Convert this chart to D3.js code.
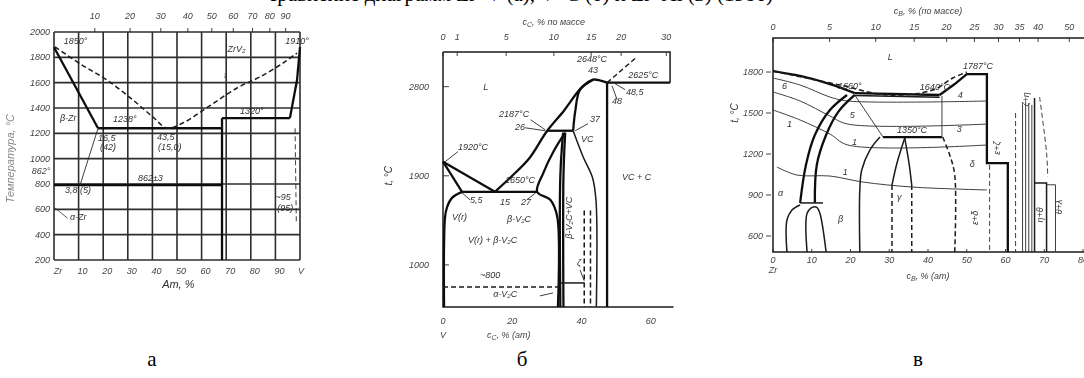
<!DOCTYPE html>
<html>
<head>
<meta charset="utf-8">
<script src="https://cdn.jsdelivr.net/npm/d3@7"></script>
<style>
  body { margin: 0; background: #fff; }
  svg { display: block; }
  .thick { fill: none; stroke: #111; stroke-width: 2.3; }
  .mid { fill: none; stroke: #1a1a1a; stroke-width: 1.5; }
  .thin { fill: none; stroke: #2a2a2a; stroke-width: 0.9; }
  .dash { stroke-dasharray: 5 3; }
  .grid { stroke: #2e2e2e; stroke-width: 1.6; }
  .lbl { font-family: "Liberation Sans", sans-serif; font-style: italic; font-size: 9px; fill: #333; }
  .tick { font-family: "Liberation Sans", sans-serif; font-style: italic; font-size: 9px; fill: #444; }
  .cap { font-family: "Liberation Serif", serif; font-size: 21px; fill: #000; }
</style>
</head>
<body>
<svg id="fig" width="1084" height="378"></svg>
<script>
// ---------- а : Zr–V (ат.% V, °C) ----------
const A_AT_TICKS = [0, 10, 20, 30, 40, 50, 60, 70, 80, 90, 100];
const A_AT_LABELS = ["Zr", "10", "20", "30", "40", "50", "60", "70", "80", "90", "V"];
const A_WT_TICKS = [10, 20, 30, 40, 50, 60, 70, 80, 90];
const A_TEMPS = [200, 400, 600, 800, 1000, 1200, 1400, 1600, 1800, 2000];
const A_LIQ_ZR = [[0, 1880], [17.9, 1240]];
const A_EUTECTIC = [[17.9, 1240], [68.3, 1240]];
const A_ZRV2 = [[68.3, 200], [68.3, 1320]];
const A_PERITECTIC = [[68.3, 1320], [95.9, 1320]];
const A_LIQ_V = [[95.9, 1320], [98.8, 1621], [100, 1880]];
const A_EUTECTOID = [[0, 792], [68.3, 792]];
const A_BETA_SOLVUS = [[17.9, 1240], [10.6, 792]];
const A_ALPHA_SOLVUS = [[0.4, 610], [3, 570], [5.5, 530]];
const A_METASTABLE = [[0.4, 1882], [11.4, 1739], [21.5, 1621], [32.1, 1463], [40.2, 1329], [45.9, 1242],
  [52.4, 1282], [62.6, 1408], [74.4, 1558], [83.7, 1645], [93.1, 1755], [98.8, 1834]];
const A_V_SOLVUS = [[98, 1240], [98.5, 500]];
const A_LABELS = [[4, 1905, "1850°"], [94, 1905, "1910°"], [70.5, 1840, "ZrV₂"], [68.6, 1640, "↓"],
  [2.4, 1297, "β-Zr"], [24, 1290, "1238°"], [17.9, 1139, "16,5"], [18.7, 1070, "(42)"],
  [41.9, 1147, "43,5"], [42.3, 1070, "(15,0)"], [75.6, 1353, "1320°"], [34.1, 824, "862±3"],
  [4.5, 729, "3,8 (5)"], [6.5, 516, "α-Zr"], [90, 676, "~95"], [90.8, 590, "(95)"]];
const A_SIDE_NOTE = [-1.5, 880, "862°"];

// ---------- б : V–C ----------
const B_AT_TICKS = [0, 20, 40, 60];
const B_WT_TICKS = [0, 1, 5, 10, 15, 20, 30];
const B_TEMPS = [1000, 1900, 2800];
const B_LIQ_V = [[0, 2042], [15, 1738]];
const B_SOL_V = [[0, 2042], [5.5, 1738]];
const B_EUTECTIC = [[5.5, 1738], [27.2, 1738]];
const B_LIQ_VC = [[15, 1738], [20, 1900], [25, 2080], [30.1, 2355], [35, 2560], [40, 2790], [43.4, 2871], [45.5, 2860], [47.4, 2840]];
const B_EUT_VC_C = [[47.4, 2840], [65.6, 2840]];
const B_PERITECTIC = [[30.1, 2355], [37.6, 2355]];
const B_SOL_VC = [[37.6, 2355], [38.2, 2550], [39.6, 2770], [43.4, 2871]];
const B_VC_RIGHT = [[47.4, 2840], [47.4, 575]];
const B_LIQ_C = [[47.4, 2840], [56.1, 3103]];
const B_V_SOLVUS = [[5.5, 1738], [2.6, 1677], [1.2, 1587], [0.6, 1486], [0.3, 575]];
const B_V2C_ARCH = [[35.3, 2335], [32, 2150], [29, 1930], [27.2, 1738], [31, 1657], [33, 1486], [33.2, 575]];
const B_V2C_L = [[34.7, 2335], [33.9, 1900], [33.9, 575]];
const B_V2C_R = [[35.3, 2335], [34.8, 1900], [34.8, 575]];
const B_VC_LEFT = [[37.6, 2355], [40.5, 2090], [43.2, 1880], [44.2, 1650], [44.3, 575]];
const B_ORDER_1 = [[40.8, 1550], [40.8, 575]];
const B_ORDER_2 = [[42.6, 1550], [42.6, 575]];
const B_ALPHA = [[0, 778], [33.2, 778]];
const B_ZETA = [[33.9, 818], [40.8, 818]];
const B_LABELS = [[11.6, 2770, "L"], [38.7, 3053, "2648°C"], [41.9, 2942, "43"], [53.5, 2890, "2625°C"],
  [52.9, 2720, "48,5"], [48.8, 2620, "48"], [16.2, 2497, "2187°C"], [20.8, 2365, "26"], [42.5, 2446, "37"],
  [39.9, 2244, "VC"], [4.3, 2163, "1920°C"], [17.9, 1830, "1650°C"], [7.8, 1627, "5,5"], [16.5, 1607, "15"],
  [22.5, 1607, "27"], [2.6, 1455, "V(r)"], [18.5, 1435, "β-V₂C"], [7.2, 1223, "V(r) + β-V₂C"],
  [51.7, 1860, "VC + C"], [38.7, 990, "ζ"], [10.7, 869, "~800"], [14.5, 677, "α-V₂C"]];
const B_LEADERS = [[[25.3, 2466], [29.5, 2365]], [[23.7, 2385], [29.5, 2355]], [[41.9, 2426], [38.2, 2355]],
  [[4.3, 2143], [0.6, 2042]], [[50.3, 2669], [48.8, 2810]], [[52.6, 2770], [49.7, 2830]],
  [[39.6, 950], [40.8, 839]], [[28, 687], [31.8, 717]], [[7.8, 1657], [5.5, 1728]], [[24.2, 1657], [26.8, 1728]]];
const B_ROT_LABELS = [[37.3, 1476, "β-V₂C+VC"]];

// ---------- в ----------
const C_AT_TICKS = [0, 10, 20, 30, 40, 50, 60, 70, 80];
const C_WT_TICKS = [0, 5, 10, 15, 20, 25, 30, 35, 40, 50];
const C_TEMPS = [600, 900, 1200, 1500, 1800];
const C_SOLIDUS = [[0, 1807], [7, 1771], [14.7, 1712], [21.1, 1646]];
const C_PLATEAU = [[21.1, 1646], [43, 1632]];
const C_PLATEAU_2 = [[21.1, 1628], [43, 1616]];
const C_RISE = [[43, 1632], [46.9, 1712], [50, 1785], [55.2, 1785], [55.2, 1134], [60.6, 1134], [60.6, 483]];
const C_LIQUIDUS = [[0, 1807], [17.3, 1705], [29.4, 1632], [41.2, 1668], [46.4, 1756], [50, 1800]];
const C_ISO_4 = [[0, 1756], [7, 1705], [14.7, 1617], [19.3, 1588], [55.2, 1588]];
const C_ISO_3 = [[0, 1654], [7, 1588], [14.7, 1478], [19.3, 1419], [55.2, 1419]];
const C_ISO_1 = [[0, 1522], [7, 1449], [14.7, 1346], [19.3, 1266], [55.2, 1266]];
const C_ARC_OUT = [[19.1, 1632], [14.7, 1522], [10.8, 1339], [8.5, 1120], [7, 842]];
const C_ARC_IN = [[21.1, 1632], [16.8, 1507], [13.7, 1339], [11.3, 1120], [10.8, 842]];
const C_ARC_FOOT = [[7, 842], [12.9, 842]];
const C_DOME_L = [[3.6, 483], [3.6, 717], [4.9, 790], [7, 827]];
const C_DOME_M = [[8.8, 483], [8.8, 766], [10.1, 810], [11.3, 810], [12.1, 766], [13.7, 483]];
const C_ARC_3 = [[27.6, 1324], [25, 1229], [22.9, 1083], [22.4, 937], [22.4, 483]];
const C_DIAG = [[21.1, 1632], [28.4, 1324]];
const C_EUTECTOID = [[28.4, 1324], [43.6, 1324]];
const C_SHORT = [[43.6, 1625], [43.6, 1324]];
const C_PEAK_L = [[34, 1317], [32, 1134], [30.7, 973]];
const C_PEAK_R = [[34, 1317], [35.1, 1134], [35.8, 973]];
const C_PEAK_LD = [[30.7, 973], [30.7, 483]];
const C_PEAK_RD = [[35.8, 973], [35.8, 483]];
const C_DASH_ARC = [[43.8, 1324], [45.6, 1193], [46.9, 1047], [46.9, 483]];
const C_WAVE = [[1, 1105], [6.2, 1046], [14.7, 1039], [23.2, 995], [36.1, 958], [55.2, 937]];
const C_COMPOUNDS = [62.6, 64.4, 65.2, 66, 66.8];
const C_COMPOUND_TOP = [1500, 1560, 1580, 1570, 1560];
const C_TALL = [[67.5, 1610], [67.5, 483]];
const C_DASH_V = [[55.9, 1120], [55.9, 483]];
const C_RIGHT_DASH = [[68.8, 1617], [70.6, 1208], [70.9, 1032]];
const C_STEP = [[67.5, 988], [70.6, 988], [70.6, 483]];
const C_STEP_2 = [[70.6, 975], [72.9, 975], [72.9, 483]];
const C_LABELS = [[29.6, 1888, "L"], [37.9, 1668, "1640°C"], [16.8, 1676, "1660°"], [49, 1822, "1787°C"],
  [32, 1354, "1350°C"], [2.3, 1676, "6"], [19.8, 1463, "5"], [3.6, 1398, "1"], [47.7, 1610, "4"],
  [47.4, 1361, "3"], [20.4, 1266, "1"], [18, 1046, "1"], [1.3, 893, "α"], [16.8, 702, "β"],
  [32, 863, "γ"], [50.8, 1105, "δ"]];
const C_ROT_LABELS = [[52.8, 732, "ε+δ"], [58.5, 1244, "ε+ζ"], [66, 1600, "ζ+η"], [69.6, 754, "η+θ"], [74.5, 812, "θ+λ"]];

// atomic-to-weight conversion for the upper scales
function atFromWt(w, mSolute, mBase) {
  const a = w / mSolute, b = (100 - w) / mBase;
  return 100 * a / (a + b);
}

const svg = d3.select("#fig");
const defs = svg.append("defs");
defs.append("filter").attr("id", "scan").append("feGaussianBlur").attr("stdDeviation", 0.45);

function draw(g, x, y, pts, cls, curved) {
  const l = d3.line().x(d => x(d[0])).y(d => y(d[1]));
  if (curved) l.curve(d3.curveCatmullRom);
  g.append("path").attr("d", l(pts)).attr("class", cls);
}
function labels(g, x, y, list) {
  g.selectAll(null).data(list).enter().append("text")
      .attr("class", "lbl")
      .attr("x", d => x(d[0]))
      .attr("y", d => y(d[1]))
      .text(d => d[2]);
}
function rotLabels(g, x, y, list) {
  g.selectAll(null).data(list).enter().append("text")
      .attr("class", "lbl")
      .attr("text-anchor", "middle")
      .attr("transform", d => `translate(${x(d[0])},${y(d[1])}) rotate(-90)`)
      .text(d => d[2]);
}
// "c" with a subscript element, then the rest of the title
function concTitle(g, px, py, el, rest) {
  const t = g.append("text").attr("class", "tick").attr("x", px).attr("y", py).attr("text-anchor", "middle");
  t.append("tspan").text("c");
  t.append("tspan").attr("dy", 2).style("font-size", "7px").text(el);
  t.append("tspan").attr("dy", -2).text(rest);
}

// ---- caption line cut at the top ----
svg.append("text").attr("class", "cap").attr("x", 268).attr("y", 1)
    .text("сравнение диаграмм Zr–V (а), V–C (б) и Zr–Al (в) (1986)");

// =============== а ===============
const xa = d3.scaleLinear().domain([0, 100]).range([54, 300]);
const ya = d3.scaleLinear().domain([200, 2000]).range([260, 32]);
const ga = svg.append("g").attr("filter", "url(#scan)");

ga.selectAll(null).data(A_AT_TICKS).enter().append("line")
    .attr("class", "grid")
    .attr("x1", d => xa(d)).attr("x2", d => xa(d))
    .attr("y1", ya(200)).attr("y2", ya(2000));
ga.selectAll(null).data(A_TEMPS).enter().append("line")
    .attr("class", "grid")
    .attr("x1", xa(0)).attr("x2", xa(100))
    .attr("y1", d => ya(d)).attr("y2", d => ya(d));

ga.selectAll(null).data(A_TEMPS).enter().append("text")
    .attr("class", "tick").attr("text-anchor", "end")
    .attr("x", xa(0) - 4).attr("y", d => ya(d) + 3)
    .text(d => d);
ga.selectAll(null).data(A_AT_TICKS).enter().append("text")
    .attr("class", "tick").attr("text-anchor", (d, i) => i === A_AT_TICKS.length - 1 ? "end" : "middle")
    .attr("x", d => xa(d) + 4).attr("y", ya(200) + 14)
    .text((d, i) => A_AT_LABELS[i]);
ga.selectAll(null).data(A_WT_TICKS).enter().append("text")
    .attr("class", "tick").attr("text-anchor", "middle")
    .attr("x", d => xa(atFromWt(d, 50.94, 91.22))).attr("y", 19)
    .text(d => d);
ga.selectAll(null).data(A_WT_TICKS).enter().append("line")
    .attr("class", "thin")
    .attr("x1", d => xa(atFromWt(d, 50.94, 91.22))).attr("x2", d => xa(atFromWt(d, 50.94, 91.22)))
    .attr("y1", ya(2000) - 4).attr("y2", ya(2000));

draw(ga, xa, ya, A_LIQ_ZR, "thick");
draw(ga, xa, ya, A_EUTECTIC, "thick");
draw(ga, xa, ya, A_ZRV2, "thick");
draw(ga, xa, ya, A_PERITECTIC, "thick");
draw(ga, xa, ya, A_LIQ_V, "thick");
draw(ga, xa, ya, A_EUTECTOID, "thick");
draw(ga, xa, ya, A_BETA_SOLVUS, "thin");
draw(ga, xa, ya, A_ALPHA_SOLVUS, "thin", true);
draw(ga, xa, ya, A_METASTABLE, "mid dash", true);
draw(ga, xa, ya, A_V_SOLVUS, "thin dash");
labels(ga, xa, ya, A_LABELS);
ga.append("text").attr("class", "tick").attr("text-anchor", "end")
    .attr("x", xa(A_SIDE_NOTE[0])).attr("y", ya(A_SIDE_NOTE[1])).text(A_SIDE_NOTE[2]);
ga.append("text").attr("class", "lbl").style("font-size", "11px").style("fill", "#888")
    .attr("text-anchor", "middle")
    .attr("transform", `translate(14,${ya(1000)}) rotate(-90)`)
    .text("Температура, °C");
ga.append("text").attr("class", "lbl").style("font-size", "11px")
    .attr("x", xa(44)).attr("y", 288).text("Ат, %");

// =============== б ===============
const xb = d3.scaleLinear().domain([0, 65]).range([443, 668]);
const yb = d3.scaleLinear().domain([575, 3150]).range([307, 52]);
const gb = svg.append("g").attr("filter", "url(#scan)");

draw(gb, xb, yb, [[0, 3150], [65.6, 3150], [65.6, 2840]], "mid");
draw(gb, xb, yb, [[0, 3150], [0, 575], [66.6, 575]], "mid");
gb.selectAll(null).data(B_TEMPS).enter().append("line")
    .attr("class", "thin")
    .attr("x1", xb(0)).attr("x2", xb(0) + 6)
    .attr("y1", d => yb(d)).attr("y2", d => yb(d));
gb.selectAll(null).data(B_TEMPS).enter().append("text")
    .attr("class", "tick").attr("text-anchor", "end")
    .attr("x", xb(0) - 14).attr("y", d => yb(d) + 3)
    .text(d => d);
gb.selectAll(null).data(B_AT_TICKS).enter().append("text")
    .attr("class", "tick").attr("text-anchor", "middle")
    .attr("x", d => xb(d)).attr("y", 324)
    .text(d => d);
gb.selectAll(null).data(B_WT_TICKS).enter().append("text")
    .attr("class", "tick").attr("text-anchor", "middle")
    .attr("x", d => xb(atFromWt(d, 12.011, 50.94))).attr("y", 40)
    .text(d => d);
gb.selectAll(null).data(B_WT_TICKS).enter().append("line")
    .attr("class", "thin")
    .attr("x1", d => xb(atFromWt(d, 12.011, 50.94))).attr("x2", d => xb(atFromWt(d, 12.011, 50.94)))
    .attr("y1", yb(3150)).attr("y2", yb(3150) + 4);
gb.append("text").attr("class", "tick").attr("x", xb(0)).attr("y", 338).attr("text-anchor", "middle").text("V");
concTitle(gb, xb(19), 338, "C", ", % (ат)");
concTitle(gb, xb(32), 25, "C", ", % по массе");
gb.append("text").attr("class", "lbl").style("font-size", "10px")
    .attr("transform", `translate(392,${yb(1900)}) rotate(-90)`).attr("text-anchor", "middle").text("t, °C");

draw(gb, xb, yb, B_LIQ_V, "thick");
draw(gb, xb, yb, B_SOL_V, "thick");
draw(gb, xb, yb, B_EUTECTIC, "thick");
draw(gb, xb, yb, B_LIQ_VC, "thick", true);
draw(gb, xb, yb, B_EUT_VC_C, "thick");
draw(gb, xb, yb, B_PERITECTIC, "thick");
draw(gb, xb, yb, B_SOL_VC, "thick", true);
draw(gb, xb, yb, B_VC_RIGHT, "thick");
draw(gb, xb, yb, B_LIQ_C, "mid dash");
draw(gb, xb, yb, B_V_SOLVUS, "thick", true);
draw(gb, xb, yb, B_V2C_ARCH, "thick", true);
draw(gb, xb, yb, B_V2C_L, "thick", true);
draw(gb, xb, yb, B_V2C_R, "thick", true);
draw(gb, xb, yb, B_VC_LEFT, "mid", true);
draw(gb, xb, yb, B_ORDER_1, "mid dash");
draw(gb, xb, yb, B_ORDER_2, "mid dash");
draw(gb, xb, yb, B_ALPHA, "mid dash");
draw(gb, xb, yb, B_ZETA, "mid");
B_LEADERS.forEach(p => draw(gb, xb, yb, p, "thin"));
labels(gb, xb, yb, B_LABELS);
rotLabels(gb, xb, yb, B_ROT_LABELS);

// =============== в ===============
const xc = d3.scaleLinear().domain([0, 80]).range([773, 1083]);
const yc = d3.scaleLinear().domain([483, 2049]).range([252, 38]);
const gc = svg.append("g").attr("filter", "url(#scan)");

draw(gc, xc, yc, [[82, 2049], [0, 2049], [0, 483], [82, 483]], "mid");
gc.selectAll(null).data(C_TEMPS).enter().append("line")
    .attr("class", "thin")
    .attr("x1", xc(0) - 7).attr("x2", xc(0) - 2)
    .attr("y1", d => yc(d)).attr("y2", d => yc(d));
gc.selectAll(null).data(C_TEMPS).enter().append("text")
    .attr("class", "tick").attr("text-anchor", "end")
    .attr("x", xc(0) - 10).attr("y", d => yc(d) + 3)
    .text(d => d);
gc.selectAll(null).data(C_AT_TICKS).enter().append("text")
    .attr("class", "tick").attr("text-anchor", "middle")
    .attr("x", d => xc(d)).attr("y", 263)
    .text(d => d);
gc.selectAll(null).data(C_AT_TICKS).enter().append("line")
    .attr("class", "thin")
    .attr("x1", d => xc(d)).attr("x2", d => xc(d))
    .attr("y1", yc(483)).attr("y2", yc(483) - 3);
gc.selectAll(null).data(C_WT_TICKS).enter().append("text")
    .attr("class", "tick").attr("text-anchor", "middle")
    .attr("x", d => xc(atFromWt(d, 28.09, 91.22))).attr("y", 30)
    .text(d => d);
gc.selectAll(null).data(C_WT_TICKS).enter().append("line")
    .attr("class", "thin")
    .attr("x1", d => xc(atFromWt(d, 28.09, 91.22))).attr("x2", d => xc(atFromWt(d, 28.09, 91.22)))
    .attr("y1", yc(2049)).attr("y2", yc(2049) + 4);
gc.append("text").attr("class", "tick").attr("x", xc(0)).attr("y", 273).attr("text-anchor", "middle").text("Zr");
concTitle(gc, xc(40), 279, "B", ", % (ат)");
concTitle(gc, xc(40), 14, "B", ", % (по массе)");
gc.append("text").attr("class", "lbl").style("font-size", "10px")
    .attr("transform", `translate(738,${yc(1500)}) rotate(-90)`).attr("text-anchor", "middle").text("t, °C");

draw(gc, xc, yc, C_SOLIDUS, "thick", true);
draw(gc, xc, yc, C_PLATEAU, "thick");
draw(gc, xc, yc, C_PLATEAU_2, "mid");
draw(gc, xc, yc, C_RISE, "thick");
draw(gc, xc, yc, C_LIQUIDUS, "mid dash", true);
draw(gc, xc, yc, C_ISO_4, "thin", true);
draw(gc, xc, yc, C_ISO_3, "thin", true);
draw(gc, xc, yc, C_ISO_1, "thin", true);
draw(gc, xc, yc, C_ARC_OUT, "thick", true);
draw(gc, xc, yc, C_ARC_IN, "thick", true);
draw(gc, xc, yc, C_ARC_FOOT, "mid");
draw(gc, xc, yc, C_DOME_L, "mid", true);
draw(gc, xc, yc, C_DOME_M, "mid", true);
draw(gc, xc, yc, C_ARC_3, "mid", true);
draw(gc, xc, yc, C_DIAG, "thin");
draw(gc, xc, yc, C_EUTECTOID, "thick");
draw(gc, xc, yc, C_SHORT, "thin");
draw(gc, xc, yc, C_PEAK_L, "mid", true);
draw(gc, xc, yc, C_PEAK_R, "mid", true);
draw(gc, xc, yc, C_PEAK_LD, "mid dash");
draw(gc, xc, yc, C_PEAK_RD, "mid dash");
draw(gc, xc, yc, C_DASH_ARC, "mid dash", true);
draw(gc, xc, yc, C_WAVE, "thin", true);
C_COMPOUNDS.forEach((c, i) => draw(gc, xc, yc, [[c, C_COMPOUND_TOP[i]], [c, 483]], i === 0 ? "thin dash" : "thin"));
draw(gc, xc, yc, C_TALL, "mid");
draw(gc, xc, yc, C_DASH_V, "thin dash");
draw(gc, xc, yc, C_RIGHT_DASH, "thin dash", true);
draw(gc, xc, yc, C_STEP, "mid");
draw(gc, xc, yc, C_STEP_2, "thin");
labels(gc, xc, yc, C_LABELS);
rotLabels(gc, xc, yc, C_ROT_LABELS);

// ---- sub-figure letters ----
svg.selectAll(null).data(["а", "б", "в"]).enter().append("text")
    .attr("class", "cap").attr("text-anchor", "middle")
    .attr("x", (d, i) => [152, 522, 918][i]).attr("y", 366)
    .text(d => d);
</script>
</body>
</html>
